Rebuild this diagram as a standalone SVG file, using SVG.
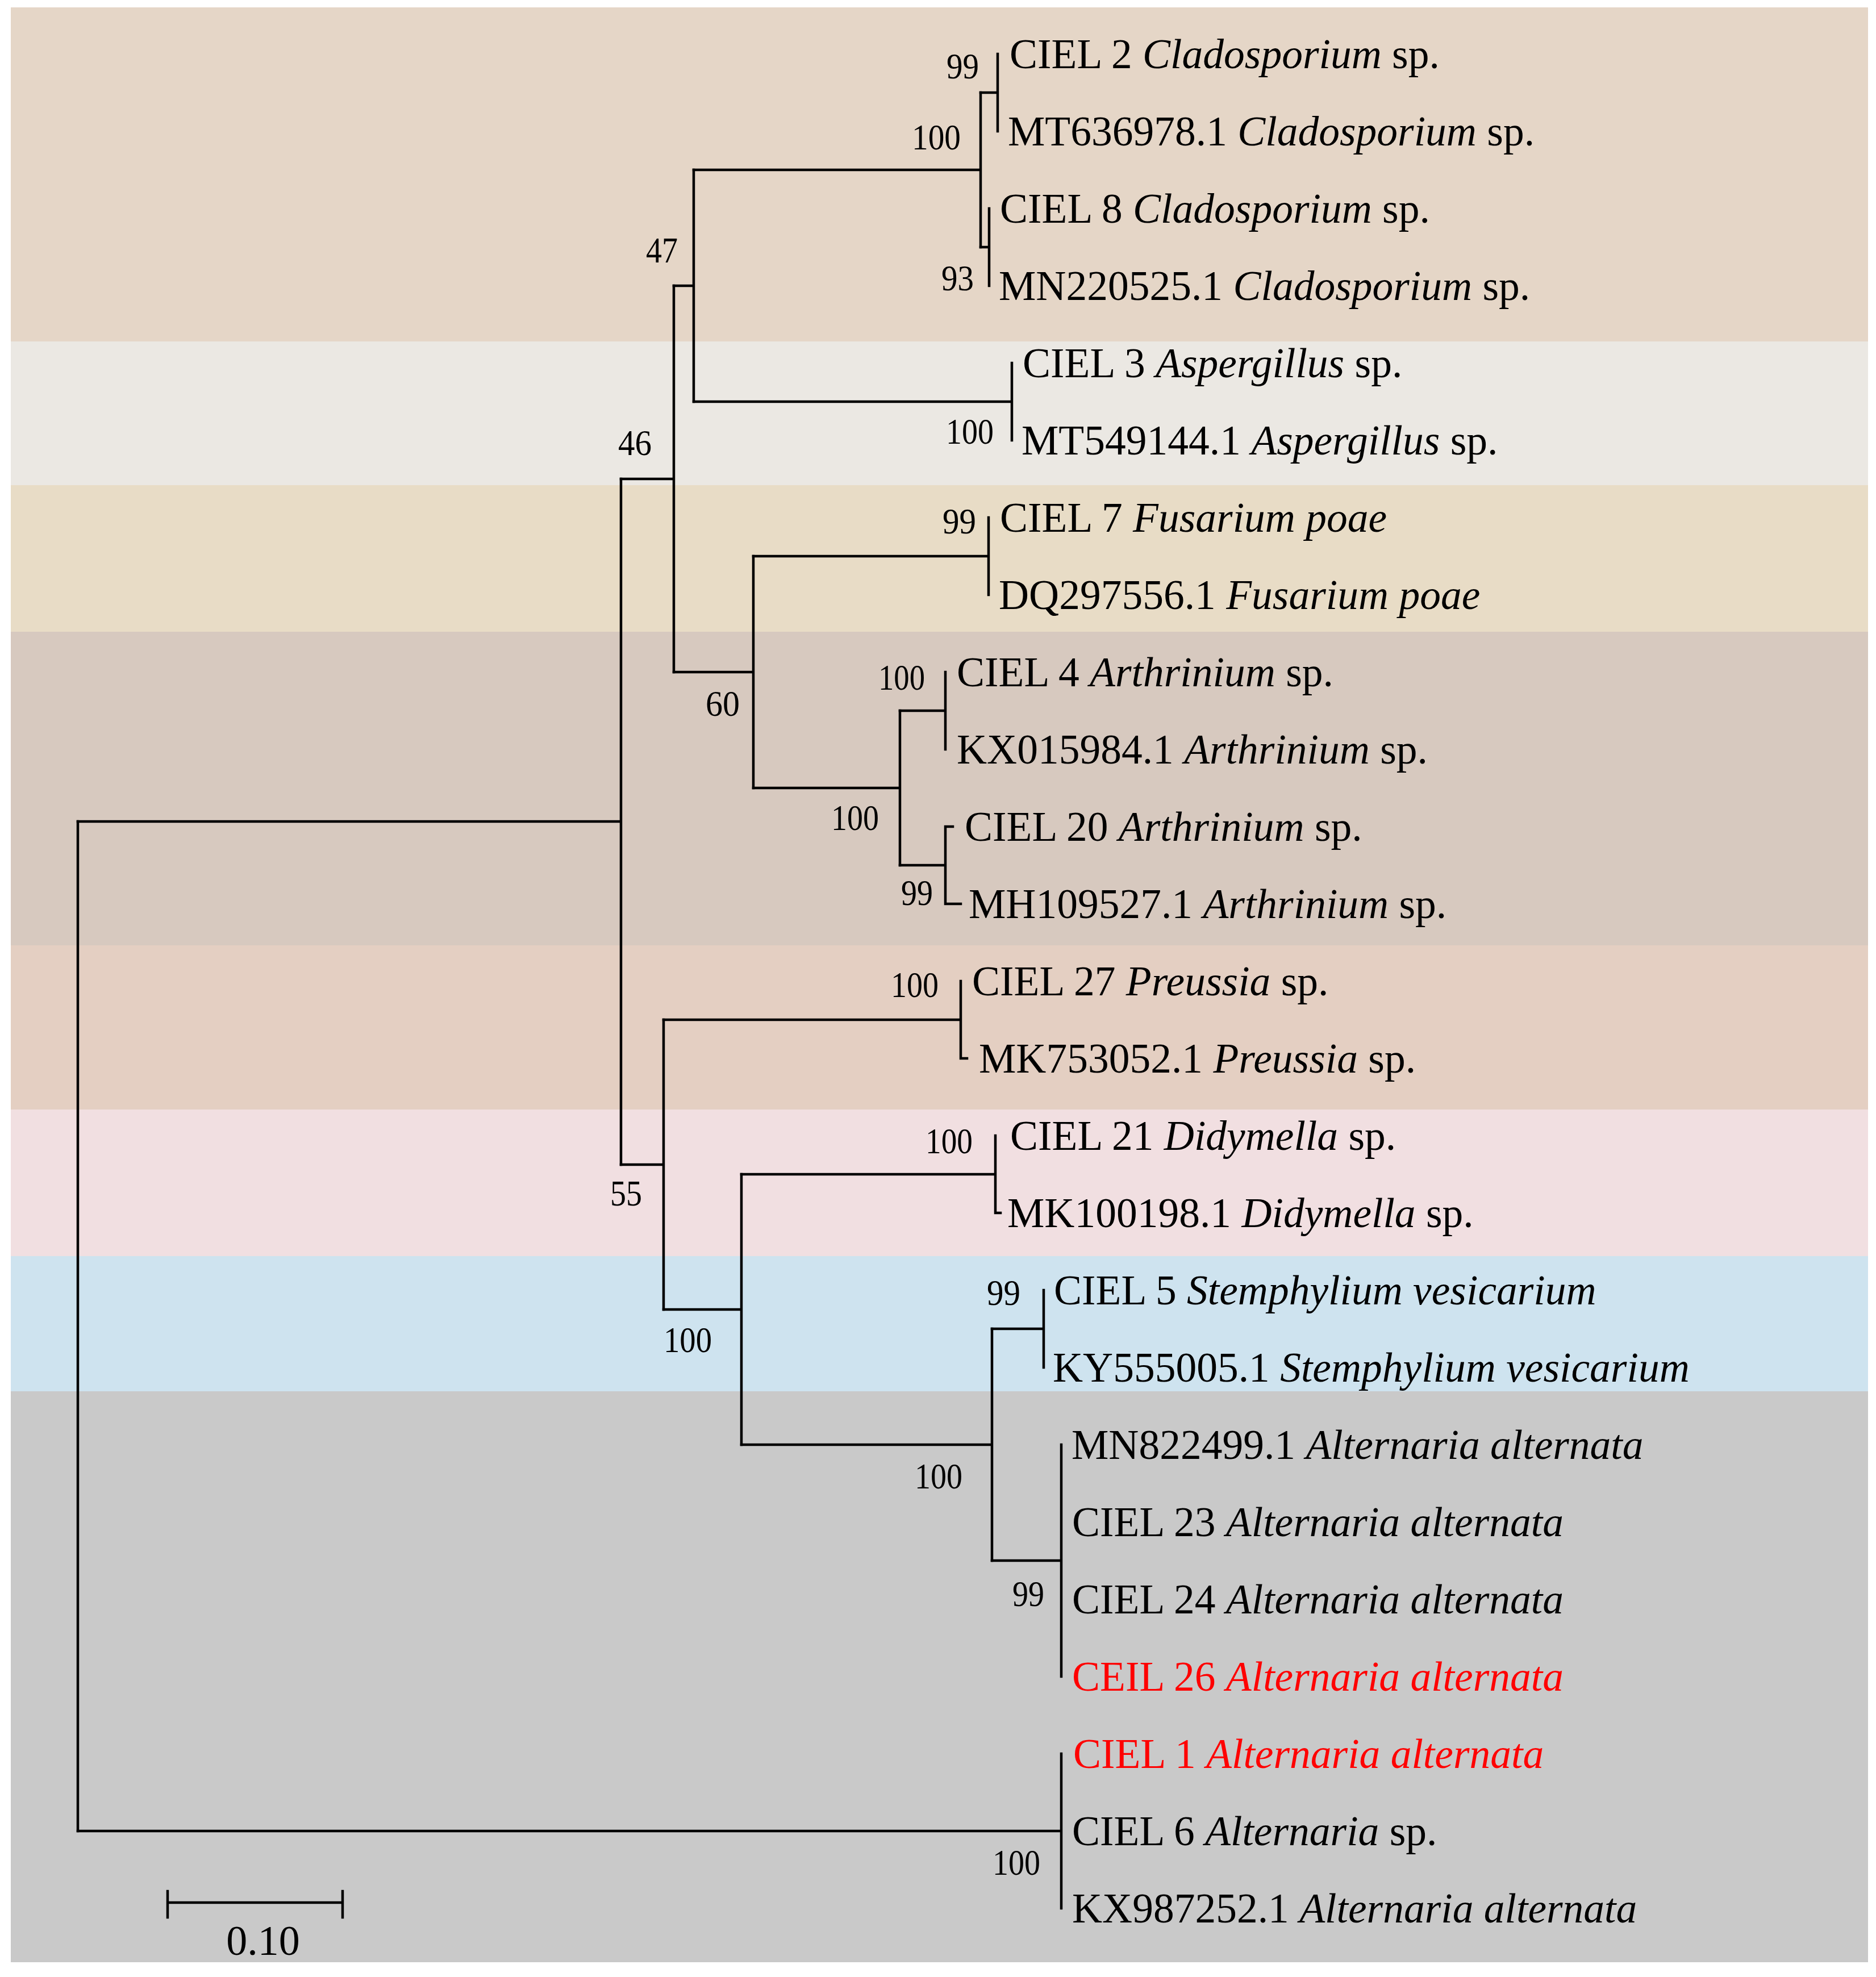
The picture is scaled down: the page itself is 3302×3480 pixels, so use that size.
<svg xmlns="http://www.w3.org/2000/svg" width="3302" height="3480" viewBox="0 0 3302 3480">
<style>
.lf{font-family:"Liberation Serif","Times New Roman",serif;font-size:73.5px;fill:#000}
.red{fill:#ff0000}
.bs{font-family:"Liberation Serif","Times New Roman",serif;font-size:64px;fill:#000}
.it{font-style:italic}
.br{fill:none;stroke:#000;stroke-width:4.5;stroke-linecap:square}
</style>
<rect x="0" y="0" width="3302" height="3480" fill="#ffffff"/>
<g id="bands">
<rect x="19" y="13" width="3269" height="588" fill="#e5d6c7"/>
<rect x="19" y="601" width="3269" height="253" fill="#ebe8e3"/>
<rect x="19" y="854" width="3269" height="258" fill="#e8dcc6"/>
<rect x="19" y="1112" width="3269" height="552" fill="#d7c9bf"/>
<rect x="19" y="1664" width="3269" height="289" fill="#e4cfc2"/>
<rect x="19" y="1953" width="3269" height="258" fill="#f1dfe1"/>
<rect x="19" y="2211" width="3269" height="238" fill="#cee3ef"/>
<rect x="19" y="2449" width="3269" height="1005" fill="#c9c9c9"/>
</g>
<g id="connectors" class="br">
<path d="M1726 163H1756M1756 95V231"/>
<path d="M1726 435H1741M1741 367V503"/>
<path d="M1221 299H1726M1726 163V435"/>
<path d="M1221 707H1781M1781 639V775"/>
<path d="M1186 503H1221M1221 299V707"/>
<path d="M1326 979H1740M1740 911V1047"/>
<path d="M1584 1251H1664M1664 1183V1319"/>
<path d="M1584 1523H1664M1664 1455V1591M1664 1455H1677M1664 1591H1691"/>
<path d="M1326 1387H1584M1584 1251V1523"/>
<path d="M1186 1183H1326M1326 979V1387"/>
<path d="M1093 843H1186M1186 503V1183"/>
<path d="M1168 1795H1691M1691 1727V1863M1691 1863H1702"/>
<path d="M1305 2067H1752M1752 1999V2135M1752 2135H1761"/>
<path d="M1746 2339H1837M1837 2271V2407"/>
<path d="M1746 2747H1868M1868 2543V2951"/>
<path d="M1305 2543H1746M1746 2339V2747"/>
<path d="M1168 2305H1305M1305 2067V2543"/>
<path d="M1093 2050H1168M1168 1795V2305"/>
<path d="M137 1446H1093M1093 843V2050"/>
<path d="M137 3223H1868M1868 3087V3359"/>
<path d="M137 1446V3223"/>
</g>
<g id="bootstrap">
<text class="bs" x="1666" y="138" textLength="57" lengthAdjust="spacingAndGlyphs">99</text>
<text class="bs" x="1605" y="263" textLength="86" lengthAdjust="spacingAndGlyphs">100</text>
<text class="bs" x="1657" y="511" textLength="57" lengthAdjust="spacingAndGlyphs">93</text>
<text class="bs" x="1137" y="462" textLength="56" lengthAdjust="spacingAndGlyphs">47</text>
<text class="bs" x="1665" y="781" textLength="84" lengthAdjust="spacingAndGlyphs">100</text>
<text class="bs" x="1088" y="801" textLength="59" lengthAdjust="spacingAndGlyphs">46</text>
<text class="bs" x="1659" y="939" textLength="59" lengthAdjust="spacingAndGlyphs">99</text>
<text class="bs" x="1546" y="1214" textLength="82" lengthAdjust="spacingAndGlyphs">100</text>
<text class="bs" x="1242" y="1260" textLength="60" lengthAdjust="spacingAndGlyphs">60</text>
<text class="bs" x="1463" y="1461" textLength="84" lengthAdjust="spacingAndGlyphs">100</text>
<text class="bs" x="1586" y="1593" textLength="56" lengthAdjust="spacingAndGlyphs">99</text>
<text class="bs" x="1568" y="1755" textLength="84" lengthAdjust="spacingAndGlyphs">100</text>
<text class="bs" x="1629" y="2030" textLength="83" lengthAdjust="spacingAndGlyphs">100</text>
<text class="bs" x="1074" y="2122" textLength="56" lengthAdjust="spacingAndGlyphs">55</text>
<text class="bs" x="1737" y="2297" textLength="59" lengthAdjust="spacingAndGlyphs">99</text>
<text class="bs" x="1168" y="2380" textLength="85" lengthAdjust="spacingAndGlyphs">100</text>
<text class="bs" x="1610" y="2620" textLength="84" lengthAdjust="spacingAndGlyphs">100</text>
<text class="bs" x="1782" y="2827" textLength="56" lengthAdjust="spacingAndGlyphs">99</text>
<text class="bs" x="1747" y="3300" textLength="84" lengthAdjust="spacingAndGlyphs">100</text>
</g>
<g id="leaf-ciel2"><text class="lf" x="1777" y="120">CIEL 2 <tspan class="it">Cladosporium</tspan> sp.</text></g>
<g id="leaf-mt636978"><text class="lf" x="1774" y="256">MT636978.1 <tspan class="it">Cladosporium</tspan> sp.</text></g>
<g id="leaf-ciel8"><text class="lf" x="1760" y="392">CIEL 8 <tspan class="it">Cladosporium</tspan> sp.</text></g>
<g id="leaf-mn220525"><text class="lf" x="1758" y="528">MN220525.1 <tspan class="it">Cladosporium</tspan> sp.</text></g>
<g id="leaf-ciel3"><text class="lf" x="1800" y="664">CIEL 3 <tspan class="it">Aspergillus</tspan> sp.</text></g>
<g id="leaf-mt549144"><text class="lf" x="1798" y="800">MT549144.1 <tspan class="it">Aspergillus</tspan> sp.</text></g>
<g id="leaf-ciel7"><text class="lf" x="1760" y="936">CIEL 7 <tspan class="it">Fusarium poae</tspan></text></g>
<g id="leaf-dq297556"><text class="lf" x="1758" y="1072">DQ297556.1 <tspan class="it">Fusarium poae</tspan></text></g>
<g id="leaf-ciel4"><text class="lf" x="1684" y="1208">CIEL 4 <tspan class="it">Arthrinium</tspan> sp.</text></g>
<g id="leaf-kx015984"><text class="lf" x="1684" y="1344">KX015984.1 <tspan class="it">Arthrinium</tspan> sp.</text></g>
<g id="leaf-ciel20"><text class="lf" x="1698" y="1480">CIEL 20 <tspan class="it">Arthrinium</tspan> sp.</text></g>
<g id="leaf-mh109527"><text class="lf" x="1705" y="1616">MH109527.1 <tspan class="it">Arthrinium</tspan> sp.</text></g>
<g id="leaf-ciel27"><text class="lf" x="1711" y="1752">CIEL 27 <tspan class="it">Preussia</tspan> sp.</text></g>
<g id="leaf-mk753052"><text class="lf" x="1723" y="1888">MK753052.1 <tspan class="it">Preussia</tspan> sp.</text></g>
<g id="leaf-ciel21"><text class="lf" x="1778" y="2024">CIEL 21 <tspan class="it">Didymella</tspan> sp.</text></g>
<g id="leaf-mk100198"><text class="lf" x="1773" y="2160">MK100198.1 <tspan class="it">Didymella</tspan> sp.</text></g>
<g id="leaf-ciel5"><text class="lf" x="1855" y="2296">CIEL 5 <tspan class="it">Stemphylium vesicarium</tspan></text></g>
<g id="leaf-ky555005"><text class="lf" x="1853" y="2432">KY555005.1 <tspan class="it">Stemphylium vesicarium</tspan></text></g>
<g id="leaf-mn822499"><text class="lf" x="1886" y="2568">MN822499.1 <tspan class="it">Alternaria alternata</tspan></text></g>
<g id="leaf-ciel23"><text class="lf" x="1887" y="2704">CIEL 23 <tspan class="it">Alternaria alternata</tspan></text></g>
<g id="leaf-ciel24"><text class="lf" x="1887" y="2840">CIEL 24 <tspan class="it">Alternaria alternata</tspan></text></g>
<g id="leaf-ceil26"><text class="lf red" x="1887" y="2976">CEIL 26 <tspan class="it">Alternaria alternata</tspan></text></g>
<g id="leaf-ciel1"><text class="lf red" x="1889" y="3112">CIEL 1 <tspan class="it">Alternaria alternata</tspan></text></g>
<g id="leaf-ciel6"><text class="lf" x="1887" y="3248">CIEL 6 <tspan class="it">Alternaria</tspan> sp.</text></g>
<g id="leaf-kx987252"><text class="lf" x="1887" y="3384">KX987252.1 <tspan class="it">Alternaria alternata</tspan></text></g>
<g id="scalebar">
<path class="br" d="M295 3349H603M295 3329V3375M603 3329V3375"/>
<text x="463" y="3441" text-anchor="middle" font-family="Liberation Serif, Times New Roman, serif" font-size="74" fill="#000">0.10</text>
</g>
</svg>
